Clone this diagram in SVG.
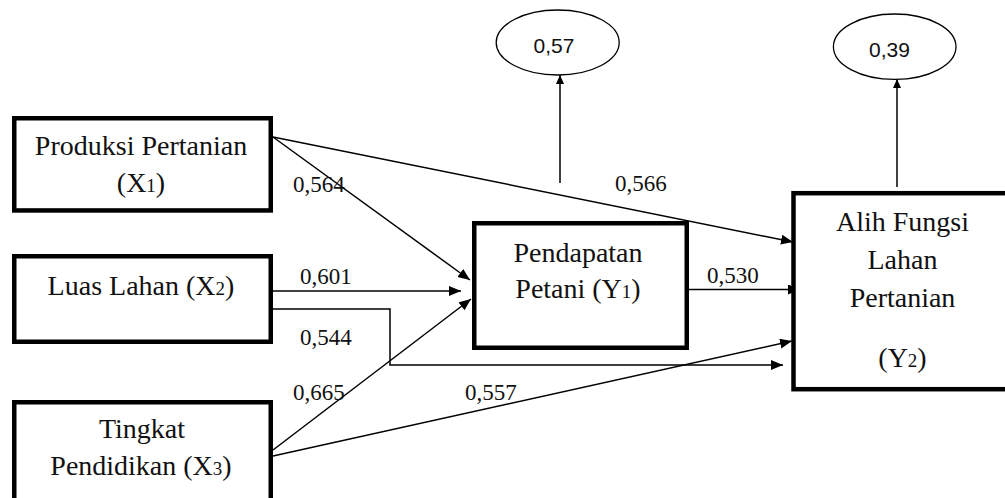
<svg xmlns="http://www.w3.org/2000/svg" width="1005" height="498" viewBox="0 0 1005 498">
<defs>
<style>
.box{fill:#fff;stroke:#000;stroke-width:4.5}
.ell{fill:#fff;stroke:#000;stroke-width:1.3}
.t{font-family:"Liberation Serif","Times New Roman",serif;font-size:28px;fill:#111;text-anchor:middle}
.sub{font-size:19px}
.n{font-family:"Liberation Serif","Times New Roman",serif;font-size:23px;fill:#111}
.e{font-family:"Liberation Sans",Arial,sans-serif;font-size:21px;fill:#111;text-anchor:middle}
.c{fill:none;stroke:#000;stroke-width:1.5}
</style>
<marker id="ah" markerUnits="userSpaceOnUse" markerWidth="13" markerHeight="11" refX="12" refY="5" orient="auto">
<path d="M0,0 L12,5 L0,10 z" fill="#000"/>
</marker>
<marker id="as" markerUnits="userSpaceOnUse" markerWidth="10" markerHeight="9" refX="9" refY="4" orient="auto">
<path d="M0,0 L9,4 L0,8 z" fill="#000"/>
</marker>
</defs>
<rect width="1005" height="498" fill="#fff"/>

<g id="connectors">
<path class="c" d="M273,137 L470,280" marker-end="url(#ah)"/>
<path class="c" d="M273,137 L793,242" marker-end="url(#ah)"/>
<path class="c" d="M273,291 L461,291" marker-end="url(#ah)"/>
<path class="c" d="M273,309 L390,309 L390,365 L783,365" marker-end="url(#ah)"/>
<path class="c" d="M273,450 L471,299" marker-end="url(#ah)"/>
<path class="c" d="M273,456 L792,341" marker-end="url(#ah)"/>
<path class="c" d="M689,289.5 L800,289.5" marker-end="url(#ah)"/>
<path class="c" d="M560,183 L560,75" marker-end="url(#as)"/>
<path class="c" d="M897,187 L897,79" marker-end="url(#as)"/>
<text class="n" x="293" y="192">0,564</text>
<text class="n" x="615" y="191">0,566</text>
<text class="n" x="300" y="284">0,601</text>
<text class="n" x="300" y="345">0,544</text>
<text class="n" x="293" y="400">0,665</text>
<text class="n" x="465" y="400">0,557</text>
<text class="n" x="707" y="283">0,530</text>
</g>

<g id="x1">
<rect class="box" x="14.25" y="118.25" width="256.5" height="92.2"/>
<text class="t" x="141" y="155">Produksi Pertanian</text>
<text class="t" x="141" y="192">(X<tspan class="sub">1</tspan>)</text>
</g>

<g id="x2">
<rect class="box" x="14.25" y="256.25" width="256.5" height="85.5"/>
<text class="t" x="141" y="295">Luas Lahan (X<tspan class="sub">2</tspan>)</text>
</g>

<g id="x3">
<rect class="box" x="14.25" y="402.25" width="256.5" height="110"/>
<text class="t" x="142" y="438">Tingkat</text>
<text class="t" x="141" y="475">Pendidikan (X<tspan class="sub">3</tspan>)</text>
</g>

<g id="y1">
<rect class="box" x="474.25" y="223.25" width="212.5" height="124.5"/>
<text class="t" x="578" y="262">Pendapatan</text>
<text class="t" x="578" y="298">Petani (Y<tspan class="sub">1</tspan>)</text>
</g>

<g id="y2">
<rect class="box" x="793.5" y="193.2" width="230" height="196"/>
<text class="t" x="902.5" y="231">Alih Fungsi</text>
<text class="t" x="902.5" y="269">Lahan</text>
<text class="t" x="902.5" y="307">Pertanian</text>
<text class="t" x="902.5" y="367">(Y<tspan class="sub">2</tspan>)</text>
</g>

<g id="e1">
<ellipse class="ell" cx="557.7" cy="42.5" rx="61.5" ry="32.5"/>
<text class="e" x="554" y="53">0,57</text>
</g>

<g id="e2">
<ellipse class="ell" cx="894.7" cy="46.7" rx="61.3" ry="32.7"/>
<text class="e" x="889.5" y="57">0,39</text>
</g>
</svg>
